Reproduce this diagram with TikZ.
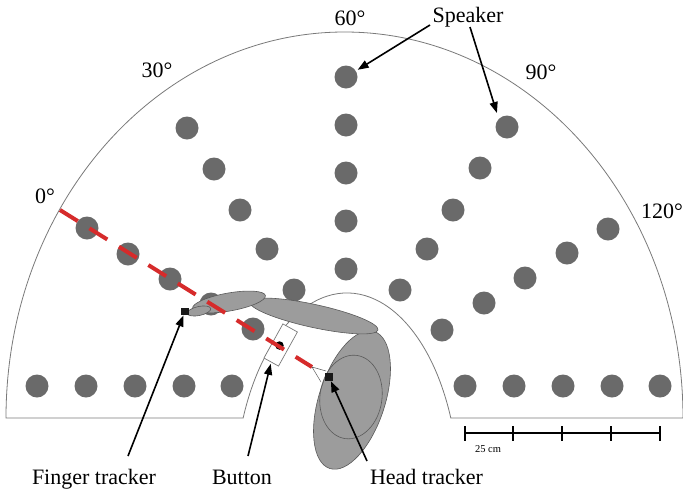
\documentclass[tikz,border=0pt]{standalone}
\usepackage{fontspec}
\setmainfont{Liberation Serif}
\usetikzlibrary{arrows.meta}
\definecolor{spkgray}{HTML}{6A6A6A}
\definecolor{limbgray}{HTML}{9C9C9C}
\definecolor{limbedge}{HTML}{5A5A5A}
\definecolor{roomedge}{HTML}{7A7A7A}
\definecolor{aimred}{HTML}{D62B2B}
\begin{document}
\begin{tikzpicture}[x=1pt,y=-1pt,
  spk/.style={circle,fill=spkgray,minimum size=23pt,inner sep=0pt},
  room/.style={draw=roomedge,line width=0.8pt},
  limb/.style={fill=limbgray,draw=limbedge,line width=0.6pt},
  headring/.style={draw=limbedge,line width=0.6pt},
  tracker/.style={fill=black!90,minimum size=8pt,inner sep=0pt},
  buttonbox/.style={draw=roomedge,fill=white,line width=0.7pt,minimum width=16.6pt,minimum height=39pt,inner sep=0pt},
  aimline/.style={draw=aimred,line width=4pt,dash pattern=on 21pt off 13.7pt},
  guide/.style={draw=limbedge,line width=0.5pt},
  pointer/.style={line width=1.6pt,-{Triangle[length=11pt,width=8pt]}},
  lbl/.style={font=\fontsize{22}{24}\selectfont,anchor=base,inner sep=0pt},
  bar/.style={line width=2.7pt},
  barlbl/.style={font=\fontsize{10.5}{12}\selectfont,anchor=base,inner sep=0pt}]

\useasboundingbox (0,0) rectangle (683,491);
\fill[white] (0,0) rectangle (683,491);

% room outline: outer half-ellipse with the inner recess
\draw[room] (6,418) arc[start angle=180,end angle=360,x radius=338.5,y radius=386]
  -- (450.8,418) arc[start angle=-22.02,end angle=-157.98,x radius=112,y radius=200]
  -- cycle;

% loudspeakers
\foreach \x [count=\i] in {37,86,135,184,232} \node[spk] (bl\i) at (\x,386) {};
\foreach \x [count=\i] in {465,514,563,612,660} \node[spk] (br\i) at (\x,386) {};
\foreach \y [count=\i] in {77,125,173,221,269} \node[spk] (c\i) at (346,\y) {};
\foreach \x/\y [count=\i] in {187/128,214/169,240/210,267/249,294/290} \node[spk] (l\i) at (\x,\y) {};
\foreach \x/\y [count=\i] in {87/228,128/254,170/279,211/304,253/329} \node[spk] (z\i) at (\x,\y) {};
\foreach \x/\y [count=\i] in {507/127,480/168,453/210,427/249,400/290} \node[spk] (r\i) at (\x,\y) {};
\foreach \x/\y [count=\i] in {608/229,567/253,525/278,484/303,442/330} \node[spk] (e\i) at (\x,\y) {};

% listener: head, upper arm, forearm, hand
\draw[limb,rotate around={-18:(352,400)}] (352,400) ellipse[x radius=33,y radius=72];
\draw[headring,rotate around={-8:(351,397)}] (351,397) ellipse[x radius=31,y radius=42];
\draw[limb,rotate around={-12.3:(314,316)}] (314,316) ellipse[x radius=65.5,y radius=11.5];
\draw[limb,rotate around={10:(229,302)}] (229,302) ellipse[x radius=37,y radius=9];
\draw[limb,rotate around={12:(199,311)}] (199,311) ellipse[x radius=12,y radius=4.5];

% response button
\node[buttonbox,rotate=-29] (bt) at (280.7,345) {};
\node[circle,fill=black,minimum size=8.5pt,inner sep=0pt] (btdot) at (279.5,345.5) {};

% pointing direction
\coordinate (zero) at (60,210);
\coordinate (lend) at (312,367);
\draw[aimline] (zero) -- (lend);
\coordinate (wedgeA) at (326,371);
\coordinate (wedgeB) at (321,382);
\draw[guide] (wedgeA) -- (lend) -- (wedgeB);

% trackers
\node[tracker,minimum size=7.5pt] (ft) at (185,311.5) {};
\node[tracker] (ht) at (329,377) {};

% labels
\node[lbl] (spklbl) at (468,22) {Speaker};
\node[lbl] (d0) at (45,203) {0°};
\node[lbl] (d30) at (157,77) {30°};
\node[lbl] (d60) at (350,25) {60°};
\node[lbl] (d90) at (541,79) {90°};
\node[lbl] (d120) at (662,218) {120°};
\node[lbl] (ftlbl) at (94,484) {Finger tracker};
\node[lbl] (btlbl) at (242,484) {Button};
\node[lbl] (htlbl) at (426.5,484) {Head tracker};

% call-out arrows
\coordinate (spTailA) at (430,25);
\coordinate (spTailB) at (470,27);
\draw[pointer,shorten >=2pt] (spTailA) -- (c1);
\draw[pointer,shorten >=6pt] (spTailB) -- (r1.north west);
\coordinate (ftTail) at (128,456);
\coordinate (btTail) at (248,456);
\coordinate (htTail) at (367,461);
\draw[pointer] (ftTail) -- (ft);
\draw[pointer,shorten >=1.5pt] (btTail) -- (bt.south);
\draw[pointer] (htTail) -- (ht);

% scale bar
\draw[bar] (465,433) -- (660,433);
\foreach \x in {465,513,562,611,660} \draw[bar] (\x,426) -- (\x,441);
\node[barlbl] (scalelbl) at (488,452) {25 cm};
\end{tikzpicture}
\end{document}
